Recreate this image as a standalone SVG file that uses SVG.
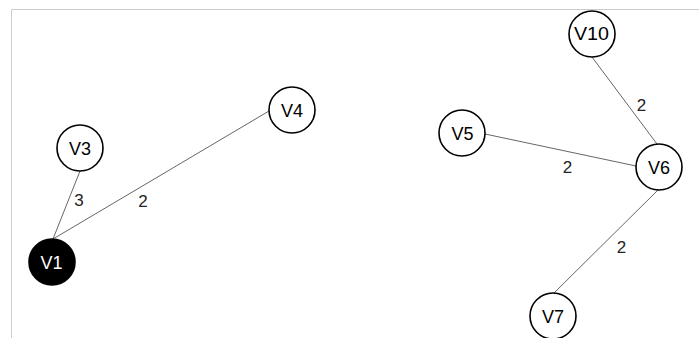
<svg xmlns="http://www.w3.org/2000/svg" width="699" height="338" viewBox="0 0 699 338">
<style>
.node circle{fill:#fff;stroke:#000;stroke-width:1.6}
.node text,.lbl{font-family:"Liberation Sans",Arial,sans-serif;text-anchor:middle;fill:#000}
.node text{font-size:18px}
.lbl{font-size:17px;fill:#222}
.edge{stroke:#555;stroke-width:0.9;fill:none}
</style>
<rect width="699" height="338" fill="#fff"/>
<path d="M11.5 338V9.5H699" fill="none" stroke="#cccccc" stroke-width="1"/>
<g id="connectors">
<line class="edge" x1="80" y1="171" x2="53" y2="239"/>
<line class="edge" x1="53" y1="239" x2="269" y2="111"/>
<line class="edge" x1="485" y1="134" x2="636" y2="166"/>
<line class="edge" x1="592" y1="57" x2="657" y2="144"/>
<line class="edge" x1="658" y1="190" x2="554" y2="293"/>
<text class="lbl" x="79" y="205.5">3</text>
<text class="lbl" x="143" y="206.5">2</text>
<text class="lbl" x="641.5" y="111">2</text>
<text class="lbl" x="567.5" y="172.5">2</text>
<text class="lbl" x="621.5" y="253">2</text>
</g>
<g id="V1" class="node"><circle cx="52" cy="262" r="23" style="fill:#000"/><text x="51.5" y="268.5" style="fill:#fff">V1</text></g>
<g id="V3" class="node"><circle cx="80" cy="148" r="23"/><text x="80" y="154.5">V3</text></g>
<g id="V4" class="node"><circle cx="292" cy="110" r="23"/><text x="292" y="116.5">V4</text></g>
<g id="V10" class="node"><circle cx="592" cy="34" r="23"/><text x="591.5" y="40" textLength="35" lengthAdjust="spacingAndGlyphs">V10</text></g>
<g id="V5" class="node"><circle cx="462" cy="133" r="23"/><text x="462.5" y="140">V5</text></g>
<g id="V6" class="node"><circle cx="659" cy="167" r="23"/><text x="659" y="173.5">V6</text></g>
<g id="V7" class="node"><circle cx="553" cy="316" r="23"/><text x="553" y="322.5">V7</text></g>
</svg>
